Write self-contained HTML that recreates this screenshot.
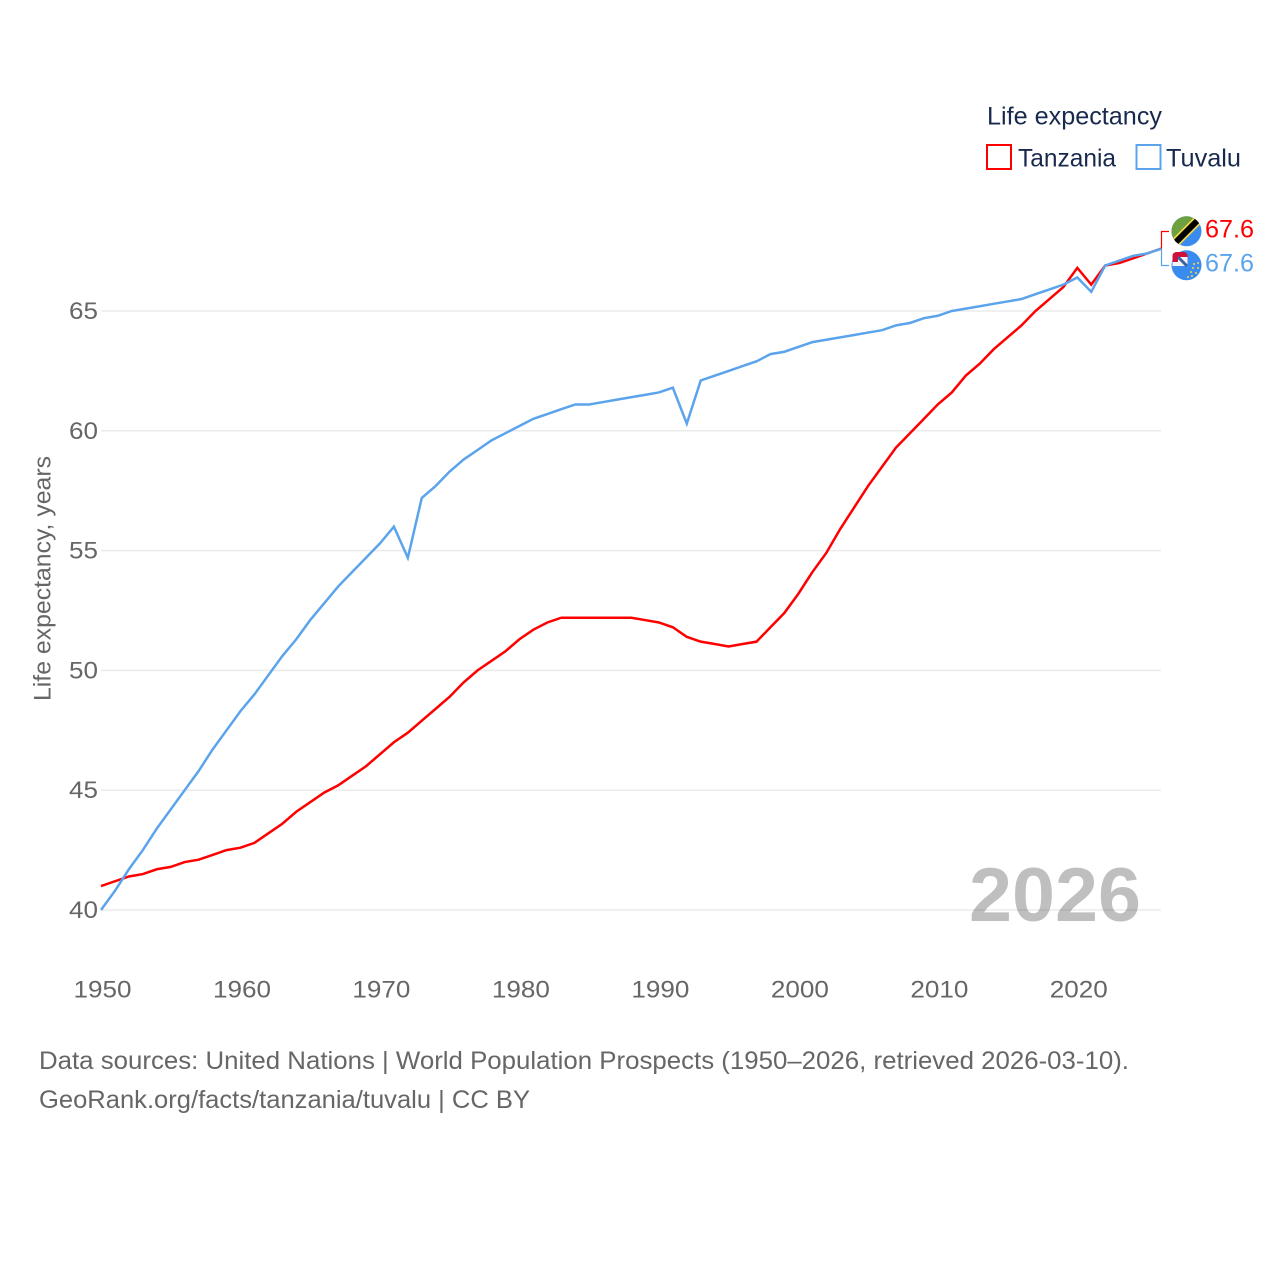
<!DOCTYPE html>
<html lang="en">
<head>
<meta charset="utf-8">
<title>Life expectancy: Tanzania and Tuvalu</title>
<style>
html,body{margin:0;padding:0;background:#fff;width:1280px;height:1280px;overflow:hidden}
svg{display:block}
text{font-family:"Liberation Sans",sans-serif}
</style>
</head>
<body>
<svg id="chart" xmlns="http://www.w3.org/2000/svg" width="1280" height="1280" viewBox="0 0 1280 1280">
  <defs>
    <clipPath id="flag-clip-a"><circle cx="1186.5" cy="231.3" r="15"/></clipPath>
    <clipPath id="flag-clip-b"><circle cx="1186.5" cy="265.3" r="15"/></clipPath>
  </defs>
  <g id="grid"></g>
  <g id="ylabels"></g>
  <g id="xlabels"></g>
  <text x="50.5" y="701" transform="rotate(-90 50.5 701)" font-size="24" fill="#666" textLength="245" lengthAdjust="spacingAndGlyphs">Life expectancy, years</text>
  <text x="969" y="921" font-size="76" font-weight="bold" fill="#000" fill-opacity="0.25" textLength="172" lengthAdjust="spacingAndGlyphs">2026</text>
  <g id="series"></g>

  <g>
    <text x="987" y="124.5" font-size="25" fill="#18294d" textLength="175" lengthAdjust="spacingAndGlyphs">Life expectancy</text>
    <g>
      <rect x="987" y="145" width="24" height="24" fill="none" stroke="#f00" stroke-width="2"/>
      <text x="1018" y="166.5" font-size="25" fill="#18294d" textLength="98" lengthAdjust="spacingAndGlyphs">Tanzania</text>
    </g>
    <g>
      <rect x="1136.5" y="145" width="24" height="24" fill="none" stroke="#5ba4ec" stroke-width="2"/>
      <text x="1166" y="166.5" font-size="25" fill="#18294d" textLength="75" lengthAdjust="spacingAndGlyphs">Tuvalu</text>
    </g>
  </g>

  <g id="connectors"></g>

  <g clip-path="url(#flag-clip-a)">
    <rect x="1171" y="216" width="31" height="31" fill="#3a8bf0"/>
    <polygon points="1171,216 1202,216 1171,247" fill="#6da13f"/>
    <line x1="1169" y1="249" x2="1204" y2="214" stroke="#f2d64b" stroke-width="9.5"/>
    <line x1="1169" y1="249" x2="1204" y2="214" stroke="#000" stroke-width="6"/>
  </g>
  <g>
    <circle cx="1186.5" cy="265.3" r="15" fill="#3a8bf0"/>
    <rect x="1172.5" y="252" width="15" height="14" rx="4" fill="#d0103a"/>
    <rect x="1178" y="257" width="9.5" height="9" fill="#f4f4f8"/>
    <rect x="1172.5" y="262" width="5.5" height="4" fill="#f4f4f8"/>
    <line x1="1178" y1="257" x2="1187" y2="266" stroke="#3f5f9f" stroke-width="3"/>
    <g fill="#f2d64b">
      <circle cx="1198" cy="263" r="1"/><circle cx="1194" cy="264" r="1"/><circle cx="1198" cy="268" r="1"/>
      <circle cx="1193" cy="268" r="1"/><circle cx="1191" cy="272" r="1"/><circle cx="1196" cy="273" r="1"/>
      <circle cx="1192" cy="276" r="1"/><circle cx="1188" cy="277" r="1"/>
    </g>
  </g>
  <text x="1205" y="237.5" font-size="25" fill="#f00" textLength="49" lengthAdjust="spacingAndGlyphs">67.6</text>
  <text x="1205" y="271.5" font-size="25" fill="#5ba4ec" textLength="49" lengthAdjust="spacingAndGlyphs">67.6</text>

  <text x="39" y="1069" font-size="25" fill="#666" textLength="1090" lengthAdjust="spacingAndGlyphs">Data sources: United Nations | World Population Prospects (1950–2026, retrieved 2026-03-10).</text>
  <text x="39" y="1108" font-size="25" fill="#666" textLength="491" lengthAdjust="spacingAndGlyphs">GeoRank.org/facts/tanzania/tuvalu | CC BY</text>
</svg>
<script>
var startYear = 1950;
var endYear = 2026;
var yTicks = [40, 45, 50, 55, 60, 65];
var xTicks = [1950, 1960, 1970, 1980, 1990, 2000, 2010, 2020];
var tanzania = [41.0,41.2,41.4,41.5,41.7,41.8,42.0,42.1,42.3,42.5,42.6,42.8,43.2,43.6,44.1,44.5,44.9,45.2,45.6,46.0,46.5,47.0,47.4,47.9,48.4,48.9,49.5,50.0,50.4,50.8,51.3,51.7,52.0,52.2,52.2,52.2,52.2,52.2,52.2,52.1,52.0,51.8,51.4,51.2,51.1,51.0,51.1,51.2,51.8,52.4,53.2,54.1,54.9,55.9,56.8,57.7,58.5,59.3,59.9,60.5,61.1,61.6,62.3,62.8,63.4,63.9,64.4,65.0,65.5,66.0,66.8,66.1,66.9,67.0,67.2,67.4,67.6];
var tuvalu = [40.0,40.8,41.7,42.5,43.4,44.2,45.0,45.8,46.7,47.5,48.3,49.0,49.8,50.6,51.3,52.1,52.8,53.5,54.1,54.7,55.3,56.0,54.7,57.2,57.7,58.3,58.8,59.2,59.6,59.9,60.2,60.5,60.7,60.9,61.1,61.1,61.2,61.3,61.4,61.5,61.6,61.8,60.3,62.1,62.3,62.5,62.7,62.9,63.2,63.3,63.5,63.7,63.8,63.9,64.0,64.1,64.2,64.4,64.5,64.7,64.8,65.0,65.1,65.2,65.3,65.4,65.5,65.7,65.9,66.1,66.4,65.8,66.9,67.1,67.3,67.4,67.6];

var SVGNS = 'http://www.w3.org/2000/svg';
function xScale(year) { return 101 + (year - 1950) * (1161 - 101) / 76; }
function yScale(v) { return 910 - (v - 40) * (910 - 311) / 25; }
function make(tag, attrs, parent) {
  var el = document.createElementNS(SVGNS, tag);
  for (var k in attrs) el.setAttribute(k, attrs[k]);
  parent.appendChild(el);
  return el;
}
var gridG = document.getElementById('grid');
var yG = document.getElementById('ylabels');
var xG = document.getElementById('xlabels');
var seriesG = document.getElementById('series');
var connG = document.getElementById('connectors');

yTicks.forEach(function (t) {
  var line = make('line', {x1: xScale(startYear), x2: xScale(endYear), y1: yScale(t), y2: yScale(t), stroke: '#ebebeb', 'stroke-width': 1.5}, gridG);
  
  
  var label = make('text', {x: 98, y: yScale(t) + 8, 'text-anchor': 'end', 'font-size': 24.5, fill: '#666', textLength: 29, lengthAdjust: 'spacingAndGlyphs'}, yG);
  
  
  label.textContent = t;
});
xTicks.forEach(function (t) {
  var label = make('text', {x: xScale(t) + 1.5, y: 997.5, 'text-anchor': 'middle', 'font-size': 24.5, fill: '#666', textLength: 58, lengthAdjust: 'spacingAndGlyphs'}, xG);
  
  
  label.textContent = t;
});
function pathFor(values) {
  return values.map(function (v, i) {
    return (i ? 'L' : 'M') + xScale(startYear + i).toFixed(2) + ' ' + yScale(v).toFixed(2);
  }).join('');
}
var redLine = make('path', {d: pathFor(tanzania), fill: 'none', stroke: '#f00', 'stroke-width': 2.5, 'stroke-linejoin': 'miter'}, seriesG);


var blueLine = make('path', {d: pathFor(tuvalu), fill: 'none', stroke: '#5ba4ec', 'stroke-width': 2.5, 'stroke-linejoin': 'miter'}, seriesG);



var lastX = xScale(endYear) + 0.5;
var lastRed = yScale(tanzania[tanzania.length - 1]);
var lastBlue = yScale(tuvalu[tuvalu.length - 1]);
var redConn = make('path', {d: 'M' + lastX + ' ' + lastRed + 'V231.5H1169', fill: 'none', stroke: '#f00', 'stroke-width': 1.2}, connG);


var blueConn = make('path', {d: 'M' + lastX + ' ' + lastBlue + 'V265.5H1169', fill: 'none', stroke: '#5ba4ec', 'stroke-width': 1.2}, connG);


</script>
</body>
</html>
